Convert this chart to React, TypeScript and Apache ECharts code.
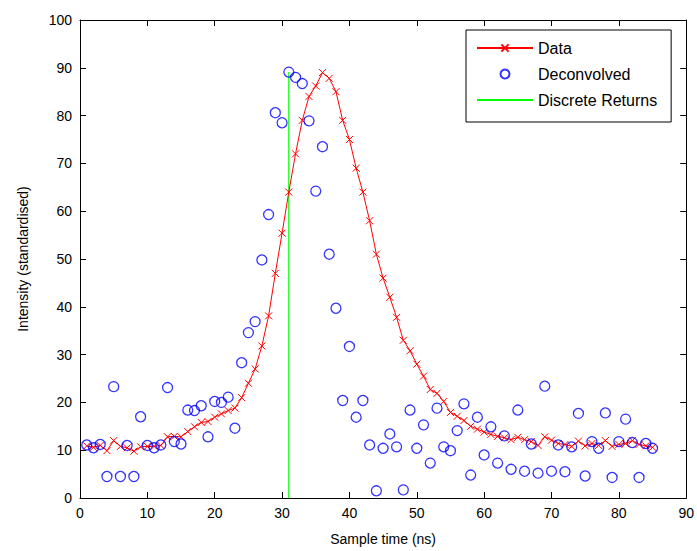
import React, { useEffect, useRef } from "react";
import * as echarts from "echarts";

const sampleTimes: number[] = Array.from({ length: 85 }, (_, i) => i + 1);

const dataValues: number[] = [
  10.9, 10.6, 11.0, 9.9, 12.0, 10.8, 10.5, 9.8, 10.7, 10.8,
  10.8, 11.0, 12.8, 12.9, 12.8, 13.9, 14.9, 15.8, 16.0, 16.9,
  17.6, 18.3, 18.8, 21.0, 24.0, 27.0, 31.8, 38.1, 47.0, 55.4,
  64.0, 72.0, 79.0, 84.0, 86.2, 89.0, 87.8, 85.0, 79.0, 75.0,
  69.0, 64.0, 58.0, 51.0, 46.0, 42.0, 37.8, 33.0, 30.8, 28.0,
  25.5, 22.7, 21.9, 20.2, 17.9, 17.1, 16.2, 15.0, 14.4, 13.8,
  13.3, 12.9, 12.6, 12.2, 12.7, 12.2, 11.8, 11.0, 12.8, 12.1,
  11.4, 11.2, 10.8, 11.9, 10.9, 11.4, 11.0, 12.0, 10.8, 11.2,
  11.4, 12.0, 11.2, 10.9, 10.6,
];

const deconvolvedValues: number[] = [
  11.1, 10.5, 11.2, 4.5, 23.3, 4.5, 11.0, 4.5, 17.0, 11.0,
  10.5, 11.1, 23.1, 11.8, 11.3, 18.4, 18.3, 19.3, 12.8, 20.2,
  20.0, 21.1, 14.6, 28.3, 34.6, 36.9, 49.8, 59.3, 80.6, 78.5,
  89.1, 88.0, 86.7, 78.9, 64.2, 73.5, 51.0, 39.7, 20.4, 31.7,
  16.9, 20.4, 11.1, 1.5, 10.4, 13.4, 10.7, 1.7, 18.4, 10.4,
  15.3, 7.3, 18.8, 10.7, 9.9, 14.1, 19.7, 4.8, 16.9, 9.0,
  14.9, 7.3, 13.0, 6.0, 18.4, 5.6, 11.3, 5.2, 23.4, 5.6,
  11.1, 5.5, 10.7, 17.7, 4.6, 11.8, 10.4, 17.8, 4.3, 11.8,
  16.5, 11.6, 4.3, 11.4, 10.4,
];

const discreteReturnTimes: number[] = [31, 31];
const discreteReturnValues: number[] = [0, 89.1];

const seriesNames: string[] = ["Data", "Deconvolved", "Discrete Returns"];

const FONT = "'Liberation Sans', Arial, sans-serif";

export default function App() {
  const ref = useRef<HTMLDivElement>(null);

  useEffect(() => {
    if (!ref.current) return;
    const chart = echarts.init(ref.current, null, { renderer: "svg" });

    const axisCommon = {
      type: "value" as const,
      axisLine: { show: true, onZero: false, lineStyle: { color: "#000", width: 1 } },
      axisTick: { show: true, inside: true, length: 6, lineStyle: { color: "#000" } },
      splitLine: { show: false },
    };

    chart.setOption({
      animation: false,
      backgroundColor: "#fff",
      textStyle: { fontFamily: FONT },
      grid: { left: 80, top: 20, width: 607, height: 478, containLabel: false },
      legend: {
        data: [
          { name: seriesNames[0] },
          { name: seriesNames[1] },
          { name: seriesNames[2], itemStyle: { opacity: 0 } },
        ],
        orient: "vertical",
        left: 466,
        top: 30,
        padding: [10, 14, 14, 10],
        itemWidth: 56,
        itemHeight: 9,
        itemGap: 10,
        backgroundColor: "#fff",
        borderColor: "#000",
        borderWidth: 1,
        textStyle: { color: "#000", fontSize: 16, fontFamily: FONT },
        z: 10,
      },
      xAxis: [
        {
          ...axisCommon,
          position: "bottom",
          min: 0,
          max: 90,
          interval: 10,
          axisLabel: { color: "#000", fontSize: 14, margin: 8, fontFamily: FONT },
          name: "Sample time (ns)",
          nameLocation: "middle",
          nameGap: 34,
          nameTextStyle: { color: "#000", fontSize: 14, fontFamily: FONT },
        },
        {
          ...axisCommon,
          position: "top",
          min: 0,
          max: 90,
          interval: 10,
          axisLabel: { show: false },
        },
      ],
      yAxis: [
        {
          ...axisCommon,
          position: "left",
          min: 0,
          max: 100,
          interval: 10,
          axisLabel: { color: "#000", fontSize: 14, margin: 8, fontFamily: FONT },
          name: "Intensity (standardised)",
          nameLocation: "middle",
          nameGap: 50,
          nameTextStyle: { color: "#000", fontSize: 14, fontFamily: FONT },
        },
        {
          ...axisCommon,
          position: "right",
          min: 0,
          max: 100,
          interval: 10,
          axisLabel: { show: false },
        },
      ],
      series: [
        {
          name: "Data",
          type: "line",
          data: sampleTimes.map((t, i) => [t, dataValues[i]]),
          symbol: "path://M0,0L10,10M10,0L0,10",
          symbolSize: 7,
          showAllSymbol: true,
          color: "#ff0000",
          lineStyle: { color: "#ff0000", width: 1 },
          itemStyle: { color: "#ff0000", borderColor: "#ff0000", borderWidth: 1 },
          z: 3,
        },
        {
          name: "Deconvolved",
          type: "scatter",
          data: sampleTimes.map((t, i) => [t, deconvolvedValues[i]]),
          symbol: "circle",
          symbolSize: 10,
          color: "#0000ff",
          itemStyle: { color: "rgba(0,0,0,0)", borderColor: "#0000ff", borderWidth: 1.3 },
          z: 4,
        },
        {
          name: "Discrete Returns",
          type: "line",
          data: discreteReturnTimes.map((t, i) => [t, discreteReturnValues[i]]),
          showSymbol: false,
          symbol: "none",
          color: "#00ff00",
          lineStyle: { color: "#00ff00", width: 1.2 },
          z: 2,
        },
      ],
    });

    return () => chart.dispose();
  }, []);

  return (
    <div
      ref={ref}
      style={{ position: "absolute", left: 0, top: 0, width: 697, height: 551, background: "#fff" }}
    />
  );
}
